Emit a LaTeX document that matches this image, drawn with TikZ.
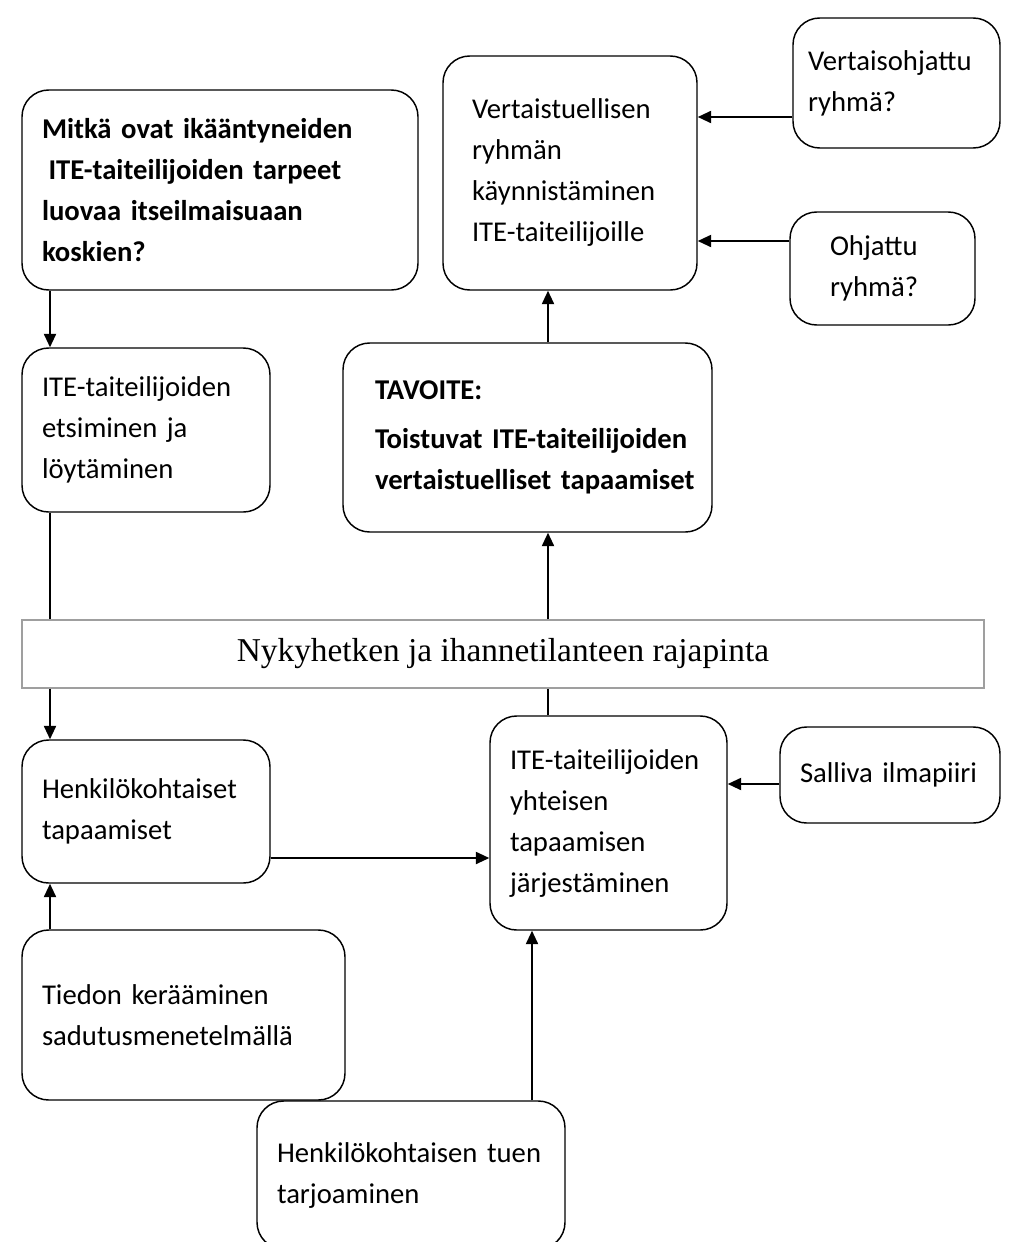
\documentclass[tikz,border=0pt]{standalone}
\usepackage{fontspec}
\setmainfont{Carlito}
\newfontfamily\bandfont{Liberation Serif}
\usetikzlibrary{arrows.meta}
\newlength{\px}
\setlength{\px}{0.75pt}

\begin{document}
\begin{tikzpicture}[
    x=0.75pt, y=-0.75pt,
    >={Triangle[length=10pt, width=9pt]},
    box/.style={rectangle, rounded corners=20pt, draw, line width=1.1pt, align=left, inner xsep=20\px, inner ysep=0pt, font=\fontsize{21.5}{30.75}\selectfont},
    boldbox/.style={box, font=\fontsize{21.5}{30.75}\selectfont\bfseries},
    band/.style={rectangle, draw=gray!75, line width=1pt, font=\bandfont\fontsize{25}{30}\selectfont},
    arrow/.style={->, line width=1.4pt},
    link/.style={line width=1.4pt}
]
\useasboundingbox (0,0) rectangle (1009,1242);
\clip (0,0) rectangle (1009,1242);

% Columns and rows of the connectors
\coordinate (colL) at (50,0);
\coordinate (colM) at (548,0);
\coordinate (colB) at (532,0);
\coordinate (rowA) at (0,117);
\coordinate (rowB) at (0,241);
\coordinate (rowC) at (0,784);
\coordinate (rowD) at (0,858);

% Upper part
\node[boldbox, minimum width=396\px, minimum height=200\px, text width=356\px] (quest) at (220,190)
    {Mitkä ovat ikääntyneiden\\\hspace*{0.23em}ITE-taiteilijoiden tarpeet\\luovaa itseilmaisuaan\\koskien?};
\node[box, minimum width=254\px, minimum height=234\px, inner xsep=29\px, text width=196\px] (vtuki) at (570,173)
    {Vertaistuellisen\\ryhmän\\käynnistäminen\\ITE-taiteilijoille};
\node[box, minimum width=207\px, minimum height=130\px, inner xsep=15\px, text width=177\px] (vohj) at (896.5,83)
    {Vertaisohjattu\\ryhmä?};
\node[box, minimum width=185\px, minimum height=113\px, inner xsep=40\px, text width=105\px] (ohj) at (882.5,268.5)
    {Ohjattu\\ryhmä?};
\node[box, minimum width=248\px, minimum height=164\px, text width=208\px] (etsi) at (146,430)
    {ITE-taiteilijoiden\\etsiminen ja\\löytäminen};
\node[boldbox, minimum width=369\px, minimum height=189\px, inner xsep=32\px, text width=305\px] (tav) at (527.5,437.5)
    {TAVOITE:\\[6pt]\mbox{Toistuvat ITE-taiteilijoiden}\\\mbox{vertaistuelliset tapaamiset}};

% Interface
\node[band, minimum width=962\px, minimum height=68\px] (band) at (503,654)
    {Nykyhetken ja ihannetilanteen rajapinta};

% Lower part
\node[box, minimum width=237\px, minimum height=214\px, text width=197\px] (yht) at (608.5,823)
    {ITE-taiteilijoiden\\yhteisen\\tapaamisen\\järjestäminen};
\node[box, minimum width=220\px, minimum height=96\px, text width=180\px] (salli) at (890,775)
    {Salliva ilmapiiri};
\node[box, minimum width=248\px, minimum height=143\px, text width=208\px] (henk) at (146,811.5)
    {Henkilökohtaiset\\tapaamiset};
\node[box, minimum width=323\px, minimum height=170\px, text width=283\px] (tied) at (183.5,1015)
    {Tiedon kerääminen\\sadutusmenetelmällä};
\node[box, minimum width=308\px, minimum height=148\px, text width=268\px] (tuen) at (411,1175)
    {Henkilökohtaisen tuen\\tarjoaminen};

% Arrows
\draw[arrow] (quest.south -| colL) -- (etsi.north -| colL);
\draw[link] (etsi.south -| colL) -- (band.north -| colL);
\draw[arrow] (band.south -| colL) -- (henk.north -| colL);
\draw[arrow] (tied.north -| colL) -- (henk.south -| colL);
\draw[arrow] (band.north -| colM) -- (tav.south -| colM);
\draw[arrow] (tav.north -| colM) -- (vtuki.south -| colM);
\draw[link] (yht.north -| colM) -- (band.south -| colM);
\draw[arrow] (tuen.north -| colB) -- (yht.south -| colB);
\draw[arrow] (vohj.west |- rowA) -- (vtuki.east |- rowA);
\draw[arrow] (ohj.west |- rowB) -- (vtuki.east |- rowB);
\draw[arrow] (salli.west |- rowC) -- (yht.east |- rowC);
\draw[arrow] (henk.east |- rowD) -- (yht.west |- rowD);

\end{tikzpicture}
\end{document}
